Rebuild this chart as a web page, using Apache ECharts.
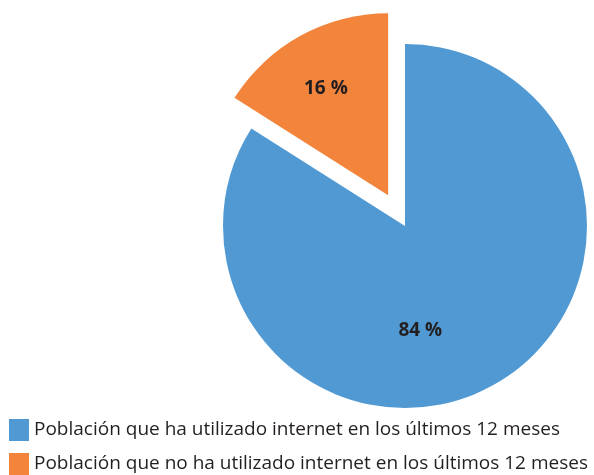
<!DOCTYPE html>
<html>
<head>
<meta charset="utf-8">
<script src="https://cdn.jsdelivr.net/npm/echarts@6/dist/echarts.min.js"></script>
<style>
  html, body { margin: 0; padding: 0; background: #fff; }
  #chart { width: 594px; height: 475px; }
</style>
</head>
<body>
<div id="chart"></div>
<script>
// data
const categories = [
  'Población que ha utilizado internet en los últimos 12 meses',
  'Población que no ha utilizado internet en los últimos 12 meses'
]
const values = [84, 16]
const colors = ['#5099d3', '#f2843c']
// label nudges so the percentages sit where the original put them
const labelOffsets = [[-30, 22], [-17, -24]]

const chart = echarts.init(document.getElementById('chart'))

const pieData = categories.map((name, i) => ({
  name,
  value: values[i],
  selected: i === 1,
  itemStyle: { color: colors[i] },
  label: { offset: labelOffsets[i] },
  // selected slice keeps its own label state, so repeat the nudge there
  select: { label: { offset: labelOffsets[i] } }
}))

chart.setOption({
  animation: false,
  legend: {
    orient: 'vertical',
    left: 9,
    top: 419,
    padding: 0,
    itemWidth: 20,
    itemHeight: 22,
    itemGap: 12,
    icon: 'rect',
    selectedMode: false,
    textStyle: {
      fontFamily: 'Open Sans',
      fontSize: 19,
      color: '#231f20',
      padding: [0, 0, 0, 0]
    },
    data: categories
  },
  series: [{
    type: 'pie',
    center: [405, 226],
    radius: 182,
    startAngle: 90,
    clockwise: true,
    selectedMode: 'single',
    selectedOffset: 35,
    emphasis: { disabled: true },
    label: {
      position: 'inside',
      formatter: '{c} %',
      fontFamily: 'Open Sans',
      fontWeight: 'bold',
      fontSize: 19,
      color: '#231f20'
    },
    labelLine: { show: false },
    data: pieData
  }]
})
</script>
</body>
</html>
